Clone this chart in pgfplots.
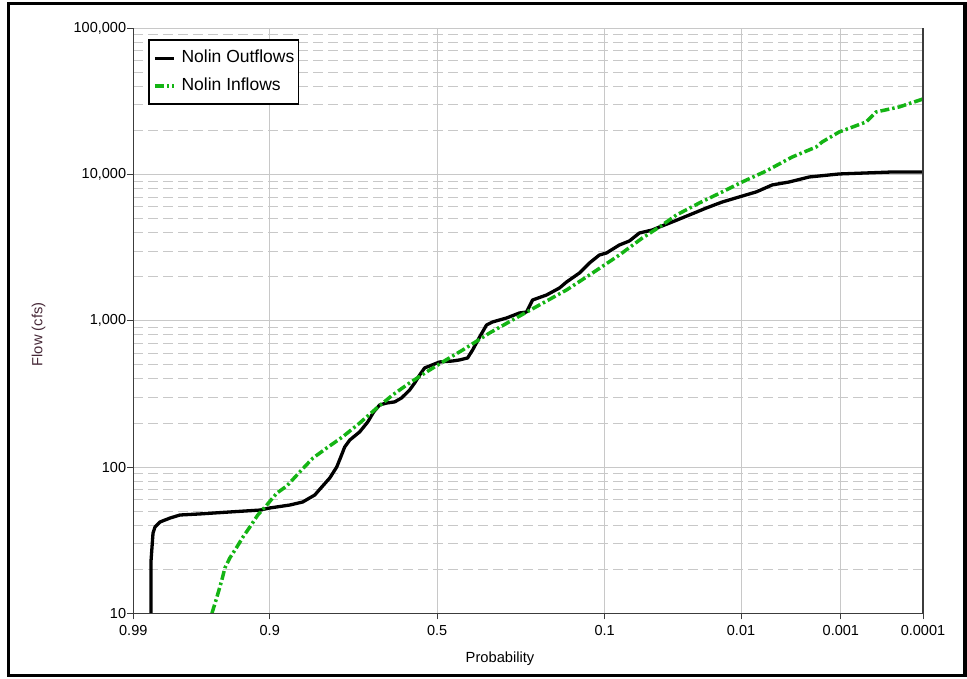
\documentclass[border=0pt]{standalone}
\usepackage{fontspec}
\setmainfont{Liberation Sans}
\usepackage{pgfplots}
\pgfplotsset{compat=1.18}
\definecolor{gridgray}{RGB}{200,200,200}
\definecolor{infl}{RGB}{20,180,20}
\definecolor{axgray}{RGB}{60,60,60}
\definecolor{ylab}{RGB}{70,40,55}
\begin{document}
\begin{tikzpicture}[x=1pt,y=1pt]
\useasboundingbox (-133.3,-64.7) rectangle (833.7,613.3);
\begin{axis}[
  name=ax,
  at={(0,0)}, anchor=south west,
  scale only axis, width=789.7pt, height=585pt,
  xmin=-2.326, xmax=3.719, ymin=10, ymax=100000, ymode=log,
  xtick={-2.326,-1.2816,0,1.2816,2.326,3.090,3.719},
  xticklabels={0.99,0.9,0.5,0.1,0.01,0.001,0.0001},
  ytick={10,100,1000,10000,100000},
  yticklabels={10,100,{1,000},{10,000},{100,000}},
  minor ytick={20,30,40,50,60,70,80,90,200,300,400,500,600,700,800,900,2000,3000,4000,5000,6000,7000,8000,9000,20000,30000,40000,50000,60000,70000,80000,90000},
  xtick pos=lower, ytick pos=left,
  tick align=outside, major tick length=6pt, minor tick length=0pt,
  tick style={axgray, line width=0.9pt},
  xmajorgrids, ymajorgrids, yminorgrids,
  major grid style={gridgray, line width=1pt},
  minor grid style={gridgray, line width=1pt, dash pattern=on 10pt off 5pt},
  axis line style={draw=none},
  ticklabel style={font=\fontsize{14.5}{16}\selectfont, inner sep=0pt, text=black},
  xticklabel style={yshift=-6pt},
  yticklabel style={xshift=-1pt},
  xlabel={Probability},
  ylabel={Flow (cfs)},
  xlabel style={at={(axis description cs:0.4644,-0.0781)}, anchor=center, font=\fontsize{14.7}{16}\selectfont},
  ylabel style={at={(axis description cs:-0.12,0.4766)}, anchor=center, rotate=0, font=\fontsize{14.7}{16}\selectfont, text=ylab},
  legend style={at={(axis description cs:0.019,0.981)}, anchor=north west, draw=black, line width=1.5pt, fill=white,
    font=\fontsize{17.5}{20}\selectfont, inner xsep=4pt, inner ysep=10pt, row sep=12pt,
    nodes={inner sep=0pt, text height=12.5pt, text depth=3.5pt},
    /tikz/every odd column/.append style={column sep=6pt}},
  legend cell align=left,
  legend image code/.code={\draw[#1] (0pt,0pt) -- (19pt,0pt);},
]
\addplot[black, line width=3.3pt, line join=round] coordinates {
(-2.191,10) (-2.190,23) (-2.175,35.4) (-2.160,38.9) (-2.122,42.1) (-2.045,44.8)
(-1.969,47.0) (-1.816,47.8) (-1.587,49.3) (-1.357,50.8) (-1.281,52.5) (-1.128,55.0)
(-1.029,57.7) (-0.937,64.4) (-0.883,73.1) (-0.822,84.2) (-0.769,100) (-0.738,117)
(-0.708,137) (-0.669,153) (-0.593,174) (-0.532,203) (-0.486,238) (-0.440,266)
(-0.386,274) (-0.325,279) (-0.272,297) (-0.211,336) (-0.172,376) (-0.134,426)
(-0.096,476) (-0.058,491) (0.019,523) (0.118,531) (0.172,540) (0.233,557)
(0.271,631) (0.325,775) (0.378,936) (0.424,982) (0.531,1045) (0.630,1131)
(0.684,1148) (0.730,1387) (0.837,1501) (0.936,1675) (0.990,1841) (1.089,2122)
(1.166,2485) (1.242,2818) (1.296,2908) (1.395,3300) (1.471,3513) (1.548,3985)
(1.647,4177) (1.701,4378) (1.800,4741) (1.930,5288) (2.060,5904) (2.182,6490)
(2.312,7028) (2.442,7604) (2.565,8490) (2.695,8897) (2.848,9624) (3.077,10090)
(3.283,10253) (3.482,10410) (3.719,10410)
};
\addlegendentry{Nolin Outflows}
\addplot[infl, line width=3.5pt, dash pattern=on 9pt off 3pt on 2.5pt off 3pt] coordinates {
(-1.724,10) (-1.686,12.9) (-1.648,16.9) (-1.625,20.4) (-1.587,23.9) (-1.533,28.4)
(-1.487,33.2) (-1.434,38.9) (-1.373,47.0) (-1.304,55.0) (-1.227,66.4) (-1.151,74.2)
(-1.052,92.5) (-0.952,115) (-0.845,135) (-0.723,161) (-0.593,200) (-0.463,253)
(-0.341,311) (-0.211,376) (-0.081,447) (0.042,523) (0.195,631) (0.401,825)
(0.577,1013) (0.783,1283) (0.990,1624) (1.189,2122) (1.395,2818) (1.571,3684)
(1.701,4378) (1.831,5288) (2.007,6391) (2.182,7604) (2.335,8897) (2.519,10576)
(2.718,13183) (2.901,15430) (2.947,16700) (3.077,19540) (3.283,22870) (3.360,26780)
(3.536,28970) (3.719,32860)
};
\addlegendentry{Nolin Inflows}
\end{axis}
\draw[axgray, line width=1.3pt] (ax.north west) -- (ax.south west) -- (ax.south east) -- (ax.north east);
\draw[black, line width=3.3pt] (-125,-62.2) rectangle (831.7,610);
\end{tikzpicture}
\end{document}
